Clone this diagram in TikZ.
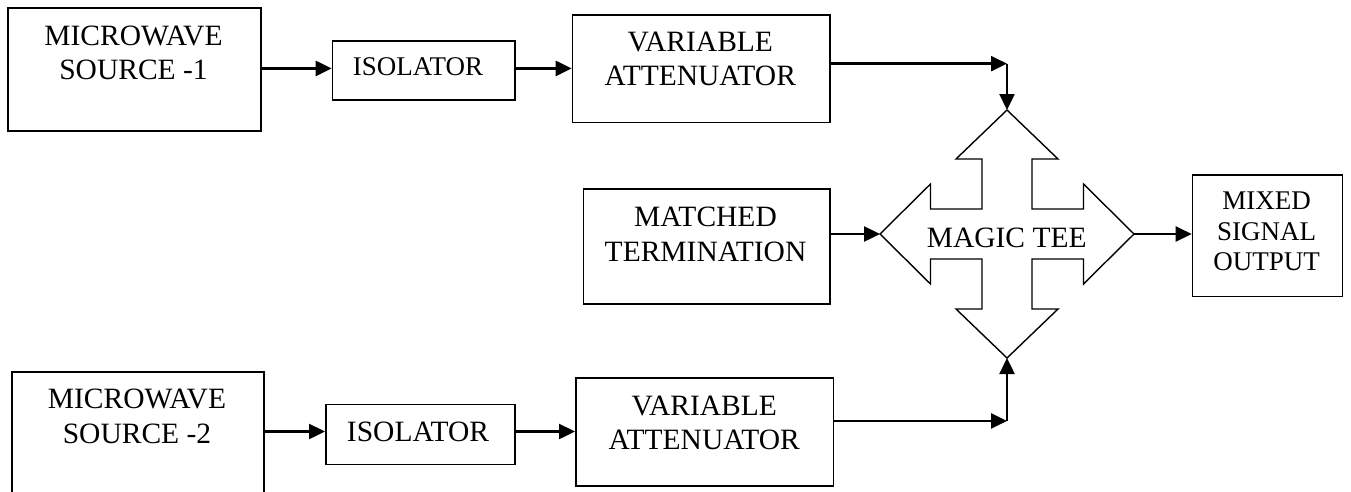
\documentclass[tikz,border=0pt]{standalone}
\usepackage{fontspec}
\setmainfont{Liberation Serif}
\usetikzlibrary{arrows.meta}
\tikzset{
    blk/.style={draw, line width=1.6pt, inner sep=0pt, anchor=north west},
    lbl/.style={align=center, inner sep=0pt, font=\fontsize{29.5}{34.5}\selectfont},
    sig/.style={line width=2.4pt, -{Triangle[length=16pt,width=15pt]}},
}
\begin{document}
\begin{tikzpicture}[x=1pt, y=-1pt]
    \useasboundingbox (0,0) rectangle (1351,491);

    % blocks
    \node[blk, minimum width=252.7pt, minimum height=122.7pt] (src1) at (7.3,7.3) {};
    \node[blk, minimum width=182.3pt, minimum height=59.3pt] (iso1) at (331.7,40) {};
    \node[blk, minimum width=257.3pt, minimum height=107.7pt] (att1) at (571.7,14) {};
    \node[blk, minimum width=246.3pt, minimum height=115pt] (mt) at (582.7,188.3) {};
    \node[blk, minimum width=150pt, minimum height=121.7pt] (mix) at (1191.7,174) {};
    \node[blk, minimum width=252.3pt, minimum height=140pt] (src2) at (11,371) {};
    \node[blk, minimum width=189pt, minimum height=60pt] (iso2) at (325,403.7) {};
    \node[blk, minimum width=257.7pt, minimum height=107.7pt] (att2) at (575,377.3) {};

    % texts
    \node[lbl] (src1t) at (133.5,52.7) {MICROWAVE\\SOURCE -1};
    \node[lbl, font=\fontsize{27}{32}\selectfont] (iso1t) at (418,66.7) {ISOLATOR};
    \node[lbl] (att1t) at (700.3,59) {VARIABLE\\ATTENUATOR};
    \node[lbl] (mtt) at (705.5,234.3) {MATCHED\\TERMINATION};
    \node[lbl, font=\fontsize{27}{30.5}\selectfont] (mixt) at (1266.7,231.3) {MIXED\\SIGNAL\\OUTPUT};
    \node[lbl] (src2t) at (137,416.5) {MICROWAVE\\SOURCE -2};
    \node[lbl] (iso2t) at (418,431.8) {ISOLATOR};
    \node[lbl] (att2t) at (704.2,423) {VARIABLE\\ATTENUATOR};

    % magic tee
    \coordinate (tee) at (1007,234);
    \coordinate (teeN) at (1007,110);
    \coordinate (teeS) at (1007,358);
    \coordinate (teeW) at (880,234);
    \coordinate (teeE) at (1134,234);
    \draw[line width=1.4pt, shift={(tee)}] (0,-124) -- (51,-75) -- (25,-75) -- (25,-25) -- (76.5,-25) -- (76.5,-50)
        -- (127,0) -- (76.5,50) -- (76.5,25) -- (25,25) -- (25,75) -- (51,75)
        -- (0,124) -- (-51,75) -- (-25,75) -- (-25,25) -- (-76.5,25) -- (-76.5,50)
        -- (-127,0) -- (-76.5,-50) -- (-76.5,-25) -- (-25,-25) -- (-25,-75) -- (-51,-75) -- cycle;
    \node[lbl] (teet) at (1006.7,238.3) {MAGIC TEE};

    % signal paths
    \draw[sig] ([yshift=2pt]iso1.west -| src1.east) -- ([yshift=2pt]iso1.west);
    \draw[sig] ([yshift=2pt]iso1.east) -- ([yshift=2pt]iso1.east -| att1.west);
    \coordinate (c1) at ([yshift=5pt]att1.east -| tee);
    \draw[sig] ([yshift=5pt]att1.east) -- (c1);
    \draw[sig] (c1) -- (teeN);

    \draw[sig] (mt.east |- teeW) -- (teeW);
    \draw[sig] (teeE) -- (teeE -| mix.west);

    \draw[sig] ([yshift=3pt]iso2.west -| src2.east) -- ([yshift=3pt]iso2.west);
    \draw[sig] ([yshift=3pt]iso2.east) -- ([yshift=3pt]iso2.east -| att2.west);
    \coordinate (c2) at ([yshift=11pt]att2.east -| tee);
    \draw[sig] ([yshift=11pt]att2.east) -- (c2);
    \draw[sig] (c2) -- (teeS);
\end{tikzpicture}
\end{document}
